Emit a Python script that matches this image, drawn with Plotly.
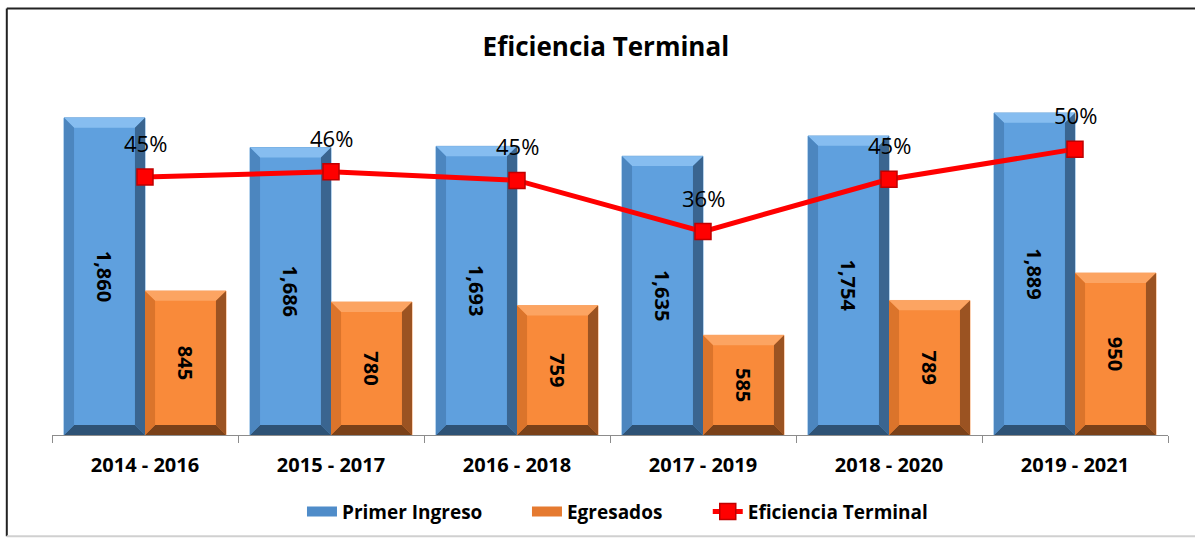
import plotly.graph_objects as go

periodos = ["2014 - 2016", "2015 - 2017", "2016 - 2018", "2017 - 2019", "2018 - 2020", "2019 - 2021"]
primer_ingreso = [1860, 1686, 1693, 1635, 1754, 1889]
egresados = [845, 780, 759, 585, 789, 950]
eficiencia = [0.454, 0.463, 0.448, 0.358, 0.450, 0.503]

FONT = "Open Sans, Noto Sans, DejaVu Sans, sans-serif"
idx = list(range(len(periodos)))
W = 0.4355          # bar width in category units
DX = 0.054          # bevel size (x units)
DY = 58             # bevel size (y units)

BLUE = dict(face="#5FA0DE", top="#86BDF0", left="#4C86BF", right="#3A6590", bottom="#2E5275", edge="#6FA8DC")
ORANGE = dict(face="#F98A3A", top="#FCA462", left="#DB742B", right="#9B5322", bottom="#7A4119", edge="#F9A66A")

fig = go.Figure()

fig.add_trace(go.Bar(
    x=idx, y=primer_ingreso, name="Primer Ingreso", width=W, offset=-W, showlegend=False,
    marker=dict(color=BLUE["face"], line=dict(color=BLUE["edge"], width=1)),
    texttemplate="%{y:,}", textposition="inside", insidetextanchor="middle",
    textangle=90, textfont=dict(family=FONT, size=20, color="black", weight="bold"),
    hoverinfo="skip"))
fig.add_trace(go.Bar(
    x=idx, y=egresados, name="Egresados", width=W, offset=0, showlegend=False,
    marker=dict(color=ORANGE["face"], line=dict(color=ORANGE["edge"], width=1)),
    texttemplate="%{y:,}", textposition="inside", insidetextanchor="middle",
    textangle=90, textfont=dict(family=FONT, size=20, color="black", weight="bold"),
    hoverinfo="skip"))


def bevel_traces(values, off, pal):
    sides = {"top": ([], []), "right": ([], []), "bottom": ([], []), "left": ([], [])}
    for i, v in zip(idx, values):
        xl = i + off
        xr = xl + W
        polys = {
            "top": [(xl, v), (xr, v), (xr - DX, v - DY), (xl + DX, v - DY)],
            "right": [(xr, v), (xr, 0), (xr - DX, DY), (xr - DX, v - DY)],
            "bottom": [(xr, 0), (xl, 0), (xl + DX, DY), (xr - DX, DY)],
            "left": [(xl, 0), (xl, v), (xl + DX, v - DY), (xl + DX, DY)],
        }
        for k, pts in polys.items():
            xs, ys = sides[k]
            for px, py in pts + [pts[0]]:
                xs.append(px)
                ys.append(py)
            xs.append(None)
            ys.append(None)
    for k, (xs, ys) in sides.items():
        fig.add_trace(go.Scatter(
            x=xs, y=ys, mode="lines", fill="toself", fillcolor=pal[k],
            line=dict(width=0, color=pal[k]), showlegend=False, hoverinfo="skip"))


bevel_traces(primer_ingreso, -W, BLUE)
bevel_traces(egresados, 0, ORANGE)

# legend-only entries drawn as wide bar swatches
fig.add_trace(go.Scatter(x=[None], y=[None], mode="lines", name="Primer Ingreso", legend="legend",
                         line=dict(color="#4F8CC9", width=12)))
fig.add_trace(go.Scatter(x=[None], y=[None], mode="lines", name="Egresados", legend="legend2",
                         line=dict(color="#E57A30", width=12)))

fig.add_trace(go.Scatter(
    x=idx, y=eficiencia, name="Eficiencia Terminal", yaxis="y2", legend="legend3",
    mode="lines+markers",
    line=dict(color="#FF0000", width=5),
    marker=dict(symbol="square", size=16, color="#FF0000", line=dict(color="#C00000", width=1.5)),
    hoverinfo="skip"))

for i, p in zip(idx, eficiencia):
    fig.add_annotation(x=i, y=p, yref="y2", xref="x", text=f"{p:.0%}", showarrow=False,
                       yshift=34, font=dict(family=FONT, size=22, color="black"))

# outer frame
fig.add_shape(type="line", xref="paper", yref="paper", x0=-0.0405, x1=1.05, y0=1.2507, y1=1.2507,
              line=dict(color="#222222", width=2))
fig.add_shape(type="line", xref="paper", yref="paper", x0=-0.0405, x1=-0.0405, y0=1.2507, y1=-0.297,
              line=dict(color="#222222", width=2))
fig.add_shape(type="line", xref="paper", yref="paper", x0=-0.0405, x1=1.05, y0=-0.297, y1=-0.297,
              line=dict(color="#D0D0D0", width=2))

legend_common = dict(orientation="h", xanchor="left", y=-0.2245, yanchor="middle",
                     font=dict(family=FONT, size=19, color="black", weight="bold"),
                     itemwidth=30, bgcolor="rgba(0,0,0,0)")

fig.update_layout(
    width=1195, height=543,
    margin=dict(l=52, r=27, t=94, b=106),
    paper_bgcolor="white", plot_bgcolor="white",
    showlegend=True,
    title=dict(text="Eficiencia Terminal", x=0.507, xanchor="center", y=0.913, yanchor="middle",
               font=dict(family=FONT, size=26, color="black", weight="bold")),
    xaxis=dict(range=[-0.5, 5.5], tickmode="array", tickvals=idx, ticktext=periodos,
               ticks="", showline=True, linecolor="#8C8C8C", linewidth=1, showgrid=False,
               zeroline=False, ticklabelstandoff=12,
               tickfont=dict(family=FONT, size=20, color="black", weight="bold"),
               minor=dict(tickmode="array", tickvals=[i - 0.5 for i in range(len(periodos) + 1)],
                          ticks="outside", ticklen=7, tickcolor="#8C8C8C", tickwidth=1, showgrid=False)),
    yaxis=dict(range=[0, 2000], visible=False, showgrid=False, zeroline=False),
    yaxis2=dict(range=[0, 0.6], overlaying="y", side="right", visible=False, showgrid=False, zeroline=False),
    legend=dict(x=0.224, **legend_common),
    legend2=dict(x=0.4256, **legend_common),
    legend3=dict(x=0.5876, **legend_common),
)

fig.write_html("out.html", post_script="document.body.style.margin='0';",
               config={"displayModeBar": False})
